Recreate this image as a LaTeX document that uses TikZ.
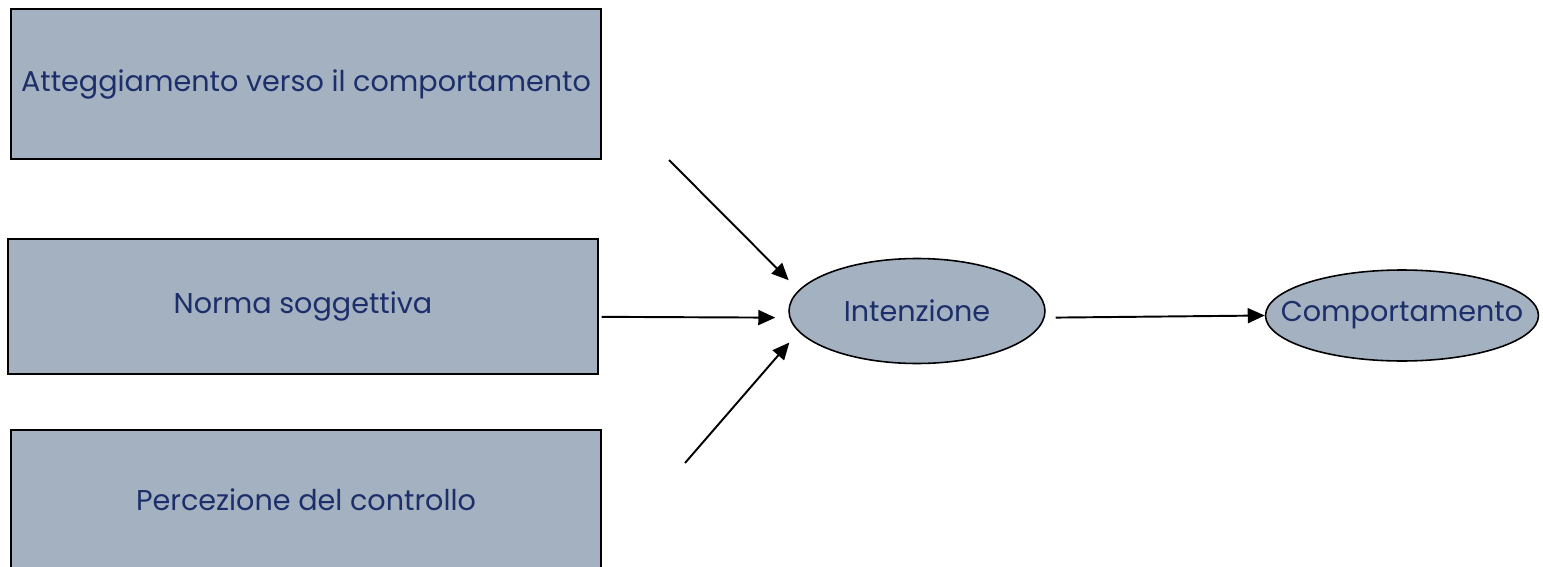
\documentclass[tikz,border=0pt]{standalone}
\usepackage{fontspec}
\setmainfont{Poppins}
\usepackage{tikz}
\usetikzlibrary{arrows.meta,positioning,shapes.geometric}
\definecolor{navyt}{HTML}{1C2F6A}
\definecolor{slatefill}{HTML}{A3B1C1}
\tikzset{
  ar/.style={-{Triangle[length=3.4mm,width=3mm]},line width=1.1pt,black},
  fbox/.style={draw=black,line width=0.9pt,fill=slatefill,text=navyt,minimum width=11.8cm,inner sep=0pt,font=\fontsize{16.3}{19}\selectfont},
  oval/.style={ellipse,draw=black,line width=0.9pt,fill=slatefill,text=navyt,inner sep=0pt,font=\fontsize{16.3}{19}\selectfont}
}

\begin{document}
\begin{tikzpicture}[x=0.02cm,y=0.02cm]
\useasboundingbox (0,0) rectangle (1543,566);
\node[fbox,minimum height=3cm] (att) at (306,482) {Atteggiamento verso il comportamento};
\node[fbox,minimum height=2.7cm] (nor) at (303,259.5) {Norma soggettiva};
\node[fbox,minimum height=2.8cm] (per) at (306,66) {Percezione del controllo};
\node[oval,minimum width=5.12cm,minimum height=2.1cm] (int) at (917,255) {Intenzione};
\node[oval,minimum width=5.46cm,minimum height=1.82cm] (com) at (1402,250.5) {\makebox[3cm]{Comportamento}};
\coordinate (s1) at (669,406);
\coordinate (s3) at (685,103);
\draw[ar,shorten >=0.28cm] (s1) -- (int.170);
\draw[ar,shorten <=0.06cm,shorten >=0.28cm] (nor.-2) -- (int.183);
\draw[ar,shorten >=0.28cm] (s3) -- (int.190);
\draw[ar,shorten <=0.22cm] (int.-3) -- (com.west);
\end{tikzpicture}
\end{document}
